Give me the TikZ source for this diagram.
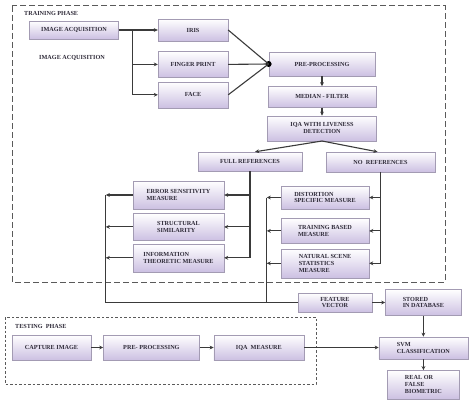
\documentclass[tikz,border=0pt]{standalone}
\usepackage{fontspec}
\setmainfont{Liberation Serif}
\definecolor{Lilac}{HTML}{CCC0E2}
\definecolor{Frame}{HTML}{A39BB3}
\definecolor{Ink}{HTML}{2E2A38}
\definecolor{Wire}{HTML}{3A3A3A}
\definecolor{Dash}{HTML}{5A5A5A}
\usetikzlibrary{arrows.meta,positioning,shadows}

\begin{document}
\begin{tikzpicture}[x=1pt, y=-1pt,
    box/.style={rectangle, draw=Frame, top color=white, bottom color=Lilac, drop shadow={opacity=0.25, shadow xshift=0.8pt, shadow yshift=-0.8pt}, minimum width=88pt, minimum height=24pt, align=center, inner sep=1.5pt, text=Ink, font=\fontsize{6.2}{6.9}\selectfont\bfseries},
    tag/.style={text=Ink, inner sep=0pt, font=\fontsize{6.2}{6.9}\selectfont\bfseries},
    hubdot/.style={circle, fill=black, inner sep=0pt, minimum size=6pt},
    trainframe/.style={draw=Dash, line width=1pt, dash pattern=on 6pt off 3pt},
    testframe/.style={draw=Dash, line width=1pt, dash pattern=on 2.5pt off 2pt},
    wire/.style={line width=1.1pt, Wire},
    arrow/.style={-{Stealth[length=4pt, width=3.8pt]}, line width=1.1pt, Wire},
]
    \useasboundingbox (0,0) rectangle (470,404);
    \draw[trainframe] (12,6) rectangle (445,282);
    \draw[testframe] (5,317) rectangle (316,384);

    \node[tag, anchor=west] (trainlbl) at (24,13) {TRAINING PHASE};
    \node[box, minimum width=89pt, minimum height=18pt] (acq) at (74,30) {IMAGE ACQUISITION};
    \node[tag] (acqlbl) at (72,58) {IMAGE ACQUISITION};

    \node[box, minimum width=70pt, minimum height=22pt] (iris) at (193,30) {IRIS};
    \node[box, minimum width=70pt, minimum height=26pt, below=10pt of iris] (fp) {FINGER PRINT};
    \node[box, minimum width=70pt, minimum height=26pt, below=4pt of fp] (face) {FACE};

    \node[box, minimum width=106pt, minimum height=24pt] (prep) at (322,64) {PRE-PROCESSING};
    \node[hubdot, left=-3pt of prep] (hub) {};
    \node[box, minimum width=108pt, minimum height=21pt, below=10pt of prep] (median) {MEDIAN - FILTER};
    \node[box, minimum width=109pt, minimum height=25pt, below=8pt of median] (iqa) {IQA WITH LIVENESS\\DETECTION};

    \node[box, minimum width=104pt, minimum height=19pt] (fullref) at (250,161.5) {FULL REFERENCES};
    \node[box, minimum width=109pt, minimum height=20pt] (noref) at (380.5,162) {NO\ \ REFERENCES};

    \node[box, minimum width=91pt, minimum height=28pt, align=left] (err) at (178.5,195) {ERROR SENSITIVITY\\MEASURE};
    \node[box, minimum width=91pt, minimum height=27pt, align=left, below=4pt of err] (struct) {STRUCTURAL\\SIMILARITY};
    \node[box, minimum width=91pt, minimum height=28pt, align=left, below=3pt of struct] (info) {INFORMATION\\THEORETIC MEASURE};

    \node[box, minimum width=88pt, minimum height=23pt, align=left] (dist) at (325,197.5) {DISTORTION\\SPECIFIC MEASURE};
    \node[box, minimum width=88pt, minimum height=25pt, align=left, below=9pt of dist] (train) {TRAINING BASED\\MEASURE};
    \node[box, minimum width=88pt, minimum height=29pt, align=left, below=5pt of train] (nss) {NATURAL SCENE\\STATISTICS\\MEASURE};

    \node[box, minimum width=74pt, minimum height=19pt] (feat) at (335,302.5) {FEATURE\\VECTOR};
    \node[box, minimum width=76pt, minimum height=26pt, align=left, right=13pt of feat] (stored) {STORED\\IN DATABASE};
    \node[box, minimum width=89pt, minimum height=22pt, align=left, below=21pt of stored] (svm) {SVM\\CLASSIFICATION};
    \node[box, minimum width=72pt, minimum height=29pt, align=left, below=11pt of svm] (real) {REAL OR\\FALSE\\BIOMETRIC};

    \node[tag, anchor=west] (testlbl) at (15,326) {TESTING\ \ PHASE};
    \node[box, minimum width=79pt, minimum height=25pt] (capture) at (51.5,347.5) {CAPTURE IMAGE};
    \node[box, minimum width=96pt, minimum height=25pt, right=12pt of capture] (prep2) {PRE- PROCESSING};
    \node[box, minimum width=90pt, minimum height=25pt, right=14pt of prep2] (iqam) {IQA\ \ MEASURE};

    \draw[wire] (acq.east) -- ++(14,0) coordinate (fork);
    \draw[arrow] (fork) -- (iris.west);
    \draw[arrow] (fork) |- (fp.west);
    \draw[arrow] (fork) |- (face.west);
    \draw[wire] (iris.east) -- (hub.center);
    \draw[wire] (fp.east) -- (hub.center);
    \draw[wire] (face.east) -- (hub.center);

    \draw[arrow] (prep) -- (median);
    \draw[arrow] (median) -- (iqa);
    \draw[arrow] (iqa.south) -- ([xshift=5pt]fullref.north);
    \draw[arrow] (iqa.south) -- ([xshift=-3pt]noref.north);

    \draw[arrow] (fullref.south) |- (info.east);
    \draw[arrow] (fullref.south |- err.east) -- (err.east);
    \draw[arrow] (fullref.south |- struct.east) -- (struct.east);
    \draw[arrow] (noref.south) |- (nss.east);
    \draw[arrow] (noref.south |- dist.east) -- (dist.east);
    \draw[arrow] (noref.south |- train.east) -- (train.east);

    \draw[arrow] (err.west) -- ++(-27,0) coordinate (lbus);
    \draw[arrow] (struct.west) -- (struct.west -| lbus);
    \draw[arrow] (info.west) -- (info.west -| lbus);
    \draw[wire] (lbus) |- (feat.west);
    \draw[arrow] (dist.west) -- ++(-14,0) coordinate (rbus);
    \draw[arrow] (train.west) -- (train.west -| rbus);
    \draw[arrow] (nss.west) -- (nss.west -| rbus);
    \draw[wire] (rbus) -- (rbus |- feat.west);

    \draw[arrow] (feat) -- (stored);
    \draw[arrow] (stored) -- (svm);
    \draw[arrow] (svm) -- (real);
    \draw[arrow] (capture) -- (prep2);
    \draw[arrow] (prep2) -- (iqam);
    \draw[arrow] (iqam.east) -- (iqam.east -| svm.west);
\end{tikzpicture}
\end{document}
